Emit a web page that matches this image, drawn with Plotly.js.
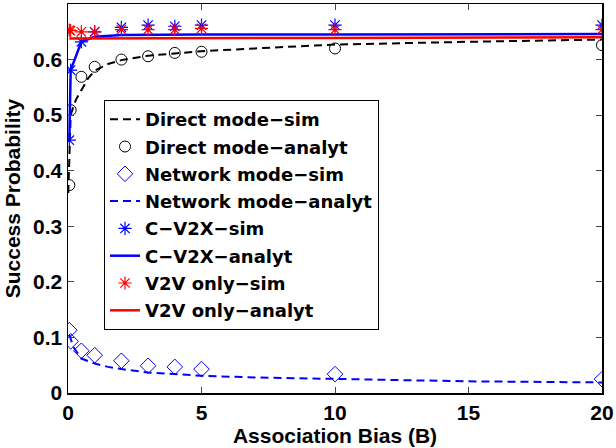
<!DOCTYPE html>
<html>
<head>
<meta charset="utf-8">
<script src="https://cdn.plot.ly/plotly-3.0.1.min.js"></script>
<style>html,body{margin:0;padding:0;background:#fff;}#chart{width:616px;height:448px;}</style>
</head>
<body>
<div id="chart"></div>
<script>
// Simulation / marker points
var simX = [0.05, 0.1, 0.5, 1, 2, 3, 4, 5, 10, 20];
var directMarkers = [0.374, 0.509, 0.569, 0.587, 0.600, 0.606, 0.612, 0.614, 0.620, 0.626];
var networkMarkers = [0.113, 0.093, 0.076, 0.068, 0.058, 0.049, 0.047, 0.043, 0.034, 0.025];
var cv2xMarkers = [0.455, 0.581, 0.632, 0.650, 0.658, 0.662, 0.660, 0.662, 0.662, 0.662];
var v2vMarkers = [0.653, 0.652, 0.650, 0.650, 0.654, 0.654, 0.654, 0.656, 0.654, 0.654];

// Curves
var directLineX = [0.01, 0.05, 0.1, 0.2, 0.3, 0.5, 0.75, 1, 1.5, 2, 3, 4, 5, 7, 10, 15, 20];
var directLineY = [0.36, 0.42, 0.50, 0.515, 0.528, 0.545, 0.566, 0.580, 0.592, 0.599, 0.607, 0.611, 0.615, 0.620, 0.627, 0.632, 0.636];
var networkLineX = [0.05, 0.1, 0.2, 0.5, 1, 1.5, 2, 3, 4, 5, 7, 10, 15, 20];
var networkLineY = [0.105, 0.097, 0.083, 0.062, 0.053, 0.047, 0.043, 0.037, 0.034, 0.031, 0.028, 0.025, 0.021, 0.019];
var cv2xLineX = [0.05, 0.1, 0.5, 1, 2, 5, 10, 20];
var cv2xLineY = [0.455, 0.581, 0.632, 0.641, 0.644, 0.645, 0.645, 0.646];
var v2vLineX = [0.05, 0.5, 1, 2, 5, 10, 20];
var v2vLineY = [0.638, 0.638, 0.639, 0.639, 0.639, 0.639, 0.640];

var legendNames = ["Direct mode\u2212sim", "Direct mode\u2212analyt", "Network mode\u2212sim", "Network mode\u2212analyt",
                   "C\u2212V2X\u2212sim", "C\u2212V2X\u2212analyt", "V2V only\u2212sim", "V2V only\u2212analyt"];
var yTicks = [0, 0.1, 0.2, 0.3, 0.4, 0.5, 0.6];
var yTickText = ["0", "0.1", "0.2", "0.3", "0.4", "0.5", "0.6"];
var xTicks = [0, 5, 10, 15, 20];

var BLUE = "#0000ff", RED = "#ff0000", BLACK = "#000000";
var FONT = "Liberation Sans, Arial, sans-serif";
var LFONT = "DejaVu Sans, sans-serif";

var traces = [
  {x: directLineX, y: directLineY, mode: "lines", name: legendNames[0], legendgroup: "g0",
   line: {color: BLACK, width: 2, dash: "8px,5px"}},
  {x: simX, y: directMarkers, mode: "markers", name: legendNames[1], legendgroup: "g1",
   marker: {symbol: "circle-open", size: 11, color: BLACK, line: {width: 1, color: BLACK}}},
  {x: simX, y: networkMarkers, mode: "markers", name: legendNames[2], legendgroup: "g2",
   marker: {symbol: "diamond-open", size: 12, color: BLUE, line: {width: 1, color: BLUE}}},
  {x: networkLineX, y: networkLineY, mode: "lines", name: legendNames[3], legendgroup: "g3",
   line: {color: BLUE, width: 2, dash: "8px,5px"}},
  {x: simX, y: cv2xMarkers, mode: "markers", name: legendNames[4], legendgroup: "g4",
   marker: {symbol: "asterisk-open", size: 11, color: BLUE, line: {width: 1.2, color: BLUE}}},
  {x: cv2xLineX, y: cv2xLineY, mode: "lines", name: legendNames[5], legendgroup: "g5",
   line: {color: BLUE, width: 2.5}},
  {x: simX, y: v2vMarkers, mode: "markers", name: legendNames[6], legendgroup: "g6",
   marker: {symbol: "asterisk-open", size: 11, color: RED, line: {width: 1.2, color: RED}}},
  {x: v2vLineX, y: v2vLineY, mode: "lines", name: legendNames[7], legendgroup: "g7",
   line: {color: RED, width: 2.5}}
];

var layout = {
  width: 616, height: 448,
  margin: {l: 68, r: 14, t: 4, b: 55},
  paper_bgcolor: "#fff", plot_bgcolor: "#fff",
  font: {family: FONT, size: 21, color: BLACK, weight: "bold"},
  showlegend: true,
  legend: {
    x: 0.0674, y: 0.7532, xanchor: "left", yanchor: "top",
    traceorder: "grouped", tracegroupgap: 0.9,
    bgcolor: "#fff", bordercolor: BLACK, borderwidth: 1,
    font: {family: LFONT, size: 18, color: BLACK, weight: "bold"}
  },
  xaxis: {
    range: [0, 20], tickvals: xTicks, ticks: "inside", ticklen: 6, tickwidth: 1,
    showline: true, linecolor: BLACK, linewidth: 1.5, mirror: "ticks",
    showgrid: false, zeroline: false,
    tickfont: {family: FONT, size: 21, weight: "bold"},
    title: {text: "Association Bias (B)", font: {family: FONT, size: 21, weight: "bold"}, standoff: 0}
  },
  yaxis: {
    range: [0, 0.7], tickvals: yTicks, ticktext: yTickText, ticks: "inside", ticklen: 6, tickwidth: 1,
    showline: true, linecolor: BLACK, linewidth: 1.5, mirror: "ticks",
    showgrid: false, zeroline: false,
    tickfont: {family: FONT, size: 21, weight: "bold"},
    title: {text: "Success Probability", font: {family: FONT, size: 21, weight: "bold"}, standoff: 6}
  }
};

Plotly.newPlot("chart", traces, layout, {displayModeBar: false, staticPlot: true});
</script>
</body>
</html>
